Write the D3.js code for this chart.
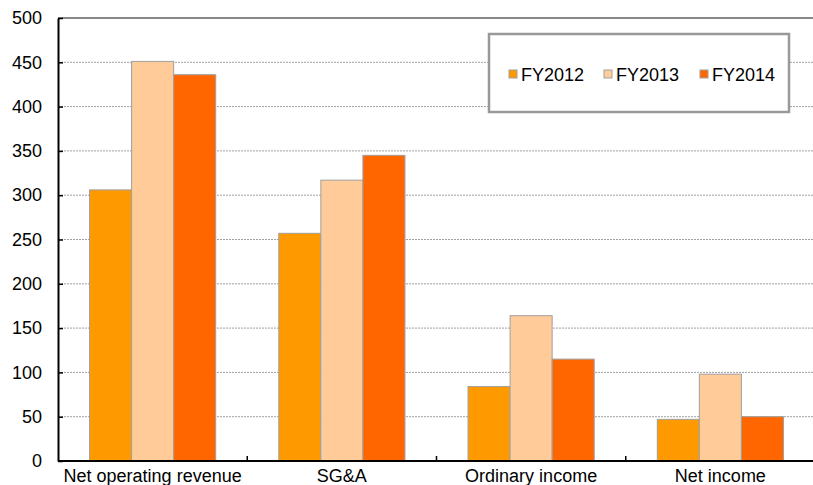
<!DOCTYPE html>
<html>
<head>
<meta charset="utf-8">
<script src="https://cdn.jsdelivr.net/npm/d3@7"></script>
<style>
  html, body { margin: 0; padding: 0; background: #fff; }
  svg { display: block; font-family: "Liberation Sans", Arial, sans-serif; }
</style>
</head>
<body>
<svg id="chart" width="813" height="485"></svg>
<script>
// Categories and series values (JPY, hundred millions)
const categories = ["Net operating revenue", "SG&A", "Ordinary income", "Net income"];
const seriesNames = ["FY2012", "FY2013", "FY2014"];
const fy2012 = [306, 257, 84, 47];
const fy2013 = [451, 317, 164, 98];
const fy2014 = [436, 345, 115, 50];
const seriesColors = ["#FF9900", "#FFCC99", "#FF6600"];
const yTicks = [0, 50, 100, 150, 200, 250, 300, 350, 400, 450, 500];

const seriesValues = [fy2012, fy2013, fy2014];
const rows = categories.map((c, i) => ({
  category: c,
  values: seriesNames.map((s, j) => ({ series: s, value: seriesValues[j][i] }))
}));

const svg = d3.select("#chart");
const plotLeft = 58, plotRight = 815, plotTop = 18, plotBottom = 461;

const x0 = d3.scaleBand().domain(categories).range([plotLeft, plotRight]).paddingInner(0).paddingOuter(0);
const bw = x0.bandwidth();
const x1 = d3.scaleBand().domain(seriesNames).range([bw / 6, bw * 5 / 6]).padding(0);
const y = d3.scaleLinear().domain([0, 500]).range([plotBottom, plotTop]);
const color = d3.scaleOrdinal().domain(seriesNames).range(seriesColors);

// Dotted horizontal gridlines
svg.append("g")
  .selectAll("line")
  .data(yTicks.filter(t => t > 0 && t < 500))
  .join("line")
  .attr("x1", plotLeft).attr("x2", plotRight)
  .attr("y1", d => y(d)).attr("y2", d => y(d))
  .attr("stroke", "#a0a0a0")
  .attr("stroke-width", 1)
  .attr("stroke-dasharray", "2,1");

// Top frame line
svg.append("line")
  .attr("x1", plotLeft).attr("x2", plotRight)
  .attr("y1", plotTop).attr("y2", plotTop)
  .attr("stroke", "#888").attr("stroke-width", 2);

// Bars
svg.append("g")
  .selectAll("g")
  .data(rows)
  .join("g")
  .attr("transform", d => `translate(${x0(d.category)},0)`)
  .selectAll("rect")
  .data(d => d.values)
  .join("rect")
  .attr("x", d => x1(d.series))
  .attr("width", x1.bandwidth())
  .attr("y", d => y(d.value))
  .attr("height", d => y(0) - y(d.value))
  .attr("fill", d => color(d.series))
  .attr("stroke", "#a0a0a0")
  .attr("stroke-width", 1);

// Y axis
const yAxis = svg.append("g")
  .attr("transform", `translate(${plotLeft},0)`)
  .call(d3.axisLeft(y).tickValues(yTicks).tickSizeInner(-5).tickSizeOuter(0).tickPadding(16));
yAxis.select(".domain").attr("stroke", "#000").attr("stroke-width", 2);
yAxis.selectAll(".tick line").attr("stroke", "#000").attr("stroke-width", 1.5);
yAxis.selectAll("text").attr("font-size", 18).attr("fill", "#000")
  .attr("font-family", "Liberation Sans, Arial, sans-serif");

// X axis with ticks at category boundaries
const boundaries = categories.slice(1).map(c => x0(c));
const xAxis = svg.append("g").attr("transform", `translate(0,${plotBottom})`);
xAxis.append("line")
  .attr("x1", plotLeft).attr("x2", plotRight)
  .attr("stroke", "#000").attr("stroke-width", 2);
xAxis.selectAll("line.btick")
  .data(boundaries)
  .join("line")
  .attr("class", "btick")
  .attr("x1", d => d).attr("x2", d => d)
  .attr("y1", 0).attr("y2", -5)
  .attr("stroke", "#000").attr("stroke-width", 1.5);
xAxis.selectAll("text")
  .data(categories)
  .join("text")
  .attr("x", d => x0(d) + bw / 2)
  .attr("y", 21)
  .attr("text-anchor", "middle")
  .attr("font-size", 18)
  .attr("fill", "#000")
  .text(d => d);

// Legend
const legend = svg.append("g");
legend.append("rect")
  .attr("x", 489).attr("y", 34)
  .attr("width", 300).attr("height", 78)
  .attr("fill", "#fff")
  .attr("stroke", "#999").attr("stroke-width", 2.5);
const legendX = [509, 604, 700];
const item = legend.selectAll("g.item")
  .data(seriesNames)
  .join("g")
  .attr("class", "item")
  .attr("transform", (d, i) => `translate(${legendX[i]},70)`);
item.append("rect")
  .attr("width", 8).attr("height", 8)
  .attr("fill", d => color(d))
  .attr("stroke", "#a0a0a0").attr("stroke-width", 1);
item.append("text")
  .attr("x", 12).attr("y", 11)
  .attr("font-size", 18)
  .attr("fill", "#000")
  .text(d => d);
</script>
</body>
</html>
